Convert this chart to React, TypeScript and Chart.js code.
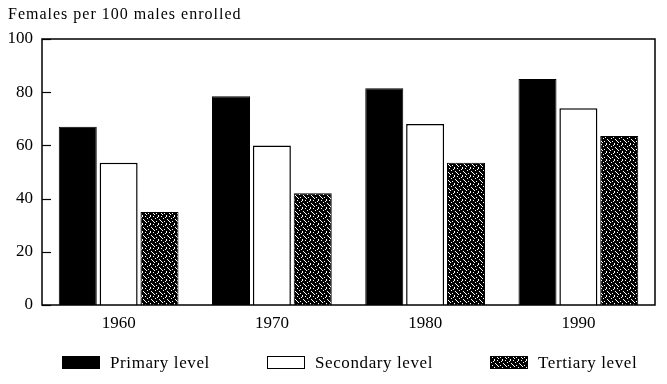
import React, { useEffect, useRef } from "react";
import { Chart, registerables } from "chart.js";

Chart.register(...registerables);

const categories = ["1960", "1970", "1980", "1990"];
const seriesLabels = ["Primary level", "Secondary level", "Tertiary level"];
const primary = [67, 78.5, 81.5, 85];
const secondary = [53.5, 60, 68, 74];
const tertiary = [35, 42, 53.5, 63.5];
const yTicks = [0, 20, 40, 60, 80, 100];
const titleText = "Females per 100 males enrolled";

const FONT = "'Liberation Serif', 'Times New Roman', serif";

function makePattern(): CanvasPattern | string {
  const c = document.createElement("canvas");
  c.width = 8;
  c.height = 8;
  const ctx = c.getContext("2d");
  if (!ctx) return "#222";
  ctx.fillStyle = "#000";
  ctx.fillRect(0, 0, 8, 8);
  ctx.fillStyle = "#fff";
  const dots = [
    [1, 0], [5, 1], [3, 2], [7, 3], [0, 4], [4, 5], [2, 6], [6, 7], [6, 0], [1, 5],
  ];
  dots.forEach(([x, y]) => ctx.fillRect(x, y, 1, 1));
  const p = ctx.createPattern(c, "repeat");
  return p || "#222";
}

export default function App() {
  const ref = useRef<HTMLCanvasElement | null>(null);
  useEffect(() => {
    if (!ref.current) return;
    const pattern = makePattern();
    const fills: (string | CanvasPattern)[] = ["#000", "#fff", pattern];

    const framePlugin = {
      id: "frame",
      afterDatasetsDraw(chart: any) {
        const { ctx, chartArea } = chart;
        const { left, right, top, bottom } = chartArea;
        ctx.save();
        ctx.strokeStyle = "#000";
        ctx.lineWidth = 1.5;
        ctx.strokeRect(left, top, right - left, bottom - top);
        const y = chart.scales.y;
        ctx.lineWidth = 1.2;
        yTicks.forEach((v) => {
          const py = Math.round(y.getPixelForValue(v)) + 0.5;
          ctx.beginPath();
          ctx.moveTo(left, py);
          ctx.lineTo(left + 9, py);
          ctx.stroke();
        });
        ctx.restore();
      },
      afterDraw(chart: any) {
        const { ctx } = chart;
        ctx.save();
        ctx.fillStyle = "#000";
        ctx.font = `16px ${FONT}`;
        (ctx as any).letterSpacing = "1px";
        ctx.textBaseline = "alphabetic";
        ctx.textAlign = "left";
        ctx.fillText(titleText, 0, 11);
        // legend
        const boxX = [54, 259, 482];
        const boxW = 38;
        const boxY = 348;
        const boxH = 13;
        ctx.font = `17px ${FONT}`;
        (ctx as any).letterSpacing = "0.6px";
        ctx.textBaseline = "middle";
        seriesLabels.forEach((lab, i) => {
          ctx.fillStyle = fills[i] as any;
          ctx.fillRect(boxX[i], boxY, boxW, boxH);
          ctx.strokeStyle = "#000";
          ctx.lineWidth = 1;
          ctx.strokeRect(boxX[i] + 0.5, boxY + 0.5, boxW - 1, boxH - 1);
          ctx.fillStyle = "#000";
          ctx.fillText(lab, boxX[i] + boxW + 10, boxY + boxH / 2 + 1);
        });
        ctx.restore();
      },
    };

    const chart = new Chart(ref.current, {
      type: "bar",
      data: {
        labels: categories,
        datasets: [
          { label: seriesLabels[0], data: primary, backgroundColor: fills[0] as any, borderColor: "#000", borderWidth: 1 },
          { label: seriesLabels[1], data: secondary, backgroundColor: fills[1] as any, borderColor: "#000", borderWidth: 1.5 },
          { label: seriesLabels[2], data: tertiary, backgroundColor: fills[2] as any, borderColor: "#000", borderWidth: 1 },
        ],
      },
      options: {
        animation: false,
        responsive: false,
        maintainAspectRatio: false,
        layout: { padding: { top: 31, right: 4, bottom: 0, left: 0 } },
        datasets: { bar: { categoryPercentage: 0.8, barPercentage: 0.93 } },
        plugins: {
          legend: { display: false },
          tooltip: { enabled: false },
          title: { display: false },
        },
        scales: {
          x: {
            grid: { display: false, drawTicks: false },
            border: { display: false },
            ticks: { color: "#000", font: { family: FONT, size: 17 }, padding: 8 },
            afterFit(scale: any) {
              scale.height = 71;
            },
          },
          y: {
            min: 0,
            max: 100,
            grid: { display: false, drawTicks: false },
            border: { display: false },
            ticks: {
              stepSize: 20,
              color: "#000",
              font: { family: FONT, size: 17 },
              padding: 9,
            },
            afterFit(scale: any) {
              scale.width = 34;
            },
          },
        },
      },
      plugins: [framePlugin],
    });
    return () => chart.destroy();
  }, []);
  return <canvas ref={ref} width={651} height={368} style={{ display: "block" }} />;
}
